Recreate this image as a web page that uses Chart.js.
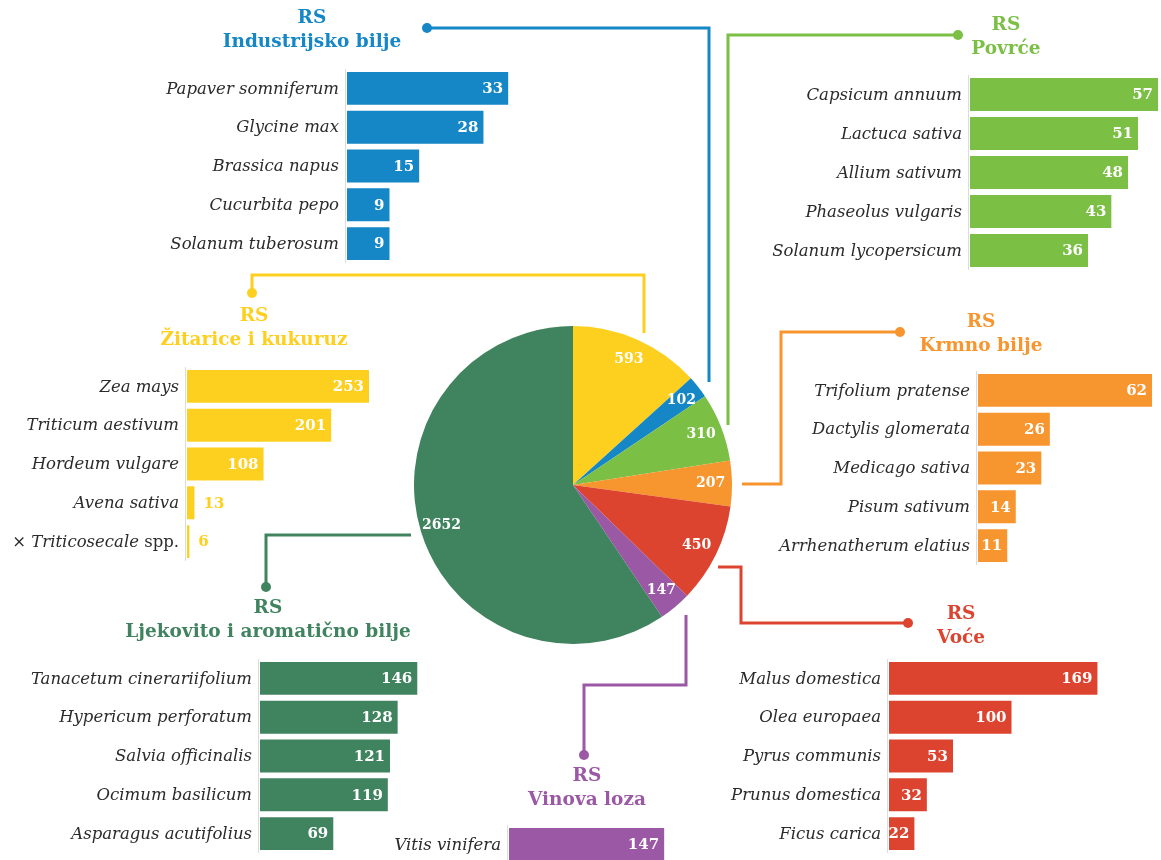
<!DOCTYPE html>
<html>
<head>
<meta charset="utf-8">
<script src="https://cdn.jsdelivr.net/npm/chart.js@4/dist/chart.umd.min.js"></script>
<style>
  html, body { margin: 0; padding: 0; background: #fff; }
  #page { position: relative; width: 1161px; height: 860px; overflow: hidden; }
  #page canvas { position: absolute; }
  .title {
    position: absolute; transform: translateX(-50%); text-align: center;
    font: bold 18.5px "DejaVu Serif", serif; line-height: 24px; white-space: nowrap;
  }
</style>
</head>
<body>
<div id="page">
  <canvas id="links" width="1161" height="860" style="left:0;top:0"></canvas>
</div>
<script>
// ukupan broj po grupama (pita u sredini)
const pieLabels = ["Žitarice i kukuruz", "Industrijsko bilje", "Povrće", "Krmno bilje", "Voće", "Vinova loza", "Ljekovito i aromatično bilje"];
const pieValues = [593, 102, 310, 207, 450, 147, 2652];

// vrste po grupama
const industrijskoLabels = ["Papaver somniferum", "Glycine max", "Brassica napus", "Cucurbita pepo", "Solanum tuberosum"];
const industrijskoValues = [33, 28, 15, 9, 9];

const povrceLabels = ["Capsicum annuum", "Lactuca sativa", "Allium sativum", "Phaseolus vulgaris", "Solanum lycopersicum"];
const povrceValues = [57, 51, 48, 43, 36];

const zitariceLabels = ["Zea mays", "Triticum aestivum", "Hordeum vulgare", "Avena sativa", "× Triticosecale spp."];
const zitariceValues = [253, 201, 108, 13, 6];

const krmnoLabels = ["Trifolium pratense", "Dactylis glomerata", "Medicago sativa", "Pisum sativum", "Arrhenatherum elatius"];
const krmnoValues = [62, 26, 23, 14, 11];

const ljekovitoLabels = ["Tanacetum cinerariifolium", "Hypericum perforatum", "Salvia officinalis", "Ocimum basilicum", "Asparagus acutifolius"];
const ljekovitoValues = [146, 128, 121, 119, 69];

const vinovaLabels = ["Vitis vinifera"];
const vinovaValues = [147];

const voceLabels = ["Malus domestica", "Olea europaea", "Pyrus communis", "Prunus domestica", "Ficus carica"];
const voceValues = [169, 100, 53, 32, 22];

// boje
const cYellow = "#fdd01f", cBlue = "#1586c6", cLime = "#7bbf45", cOrange = "#f7952e",
      cRed = "#dd4430", cPurple = "#9b58a4", cGreen = "#40835f";
const pieColors = [cYellow, cBlue, cLime, cOrange, cRed, cPurple, cGreen];

const page = document.getElementById("page");

// ---- pita ----
const pieValueText = {
  id: "pieValueText",
  afterDatasetsDraw(chart) {
    const ctx = chart.ctx;
    ctx.save();
    ctx.font = 'bold 14px "DejaVu Serif"';
    ctx.fillStyle = "#fff";
    ctx.textAlign = "center";
    ctx.textBaseline = "middle";
    chart.getDatasetMeta(0).data.forEach((arc, i) => {
      const p = arc.getProps(["x", "y", "startAngle", "endAngle", "outerRadius"]);
      const mid = (p.startAngle + p.endAngle) / 2;
      const r = p.outerRadius * 0.865;
      ctx.fillText(String(chart.data.datasets[0].data[i]), p.x + Math.cos(mid) * r, p.y + Math.sin(mid) * r);
    });
    ctx.restore();
  }
};

const pieCanvas = document.createElement("canvas");
pieCanvas.width = 318; pieCanvas.height = 318;
pieCanvas.style.left = "414px"; pieCanvas.style.top = "326px";
page.appendChild(pieCanvas);
new Chart(pieCanvas, {
  type: "pie",
  data: { labels: pieLabels, datasets: [{ data: pieValues, backgroundColor: pieColors, borderWidth: 0 }] },
  options: {
    responsive: false,
    animation: false,
    layout: { padding: 0 },
    plugins: { legend: { display: false }, tooltip: { enabled: false } }
  },
  plugins: [pieValueText]
});

// ---- trakasti grafikoni ----
// "× Ime spp." -> uspravni dijelovi, ime u kurzivu
function labelParts(s) {
  const m = s.match(/^(× )?(.+?)( spp\.)?$/);
  const parts = [];
  if (m[1]) parts.push({ t: m[1], it: false });
  parts.push({ t: m[2], it: true });
  if (m[3]) parts.push({ t: m[3], it: false });
  return parts;
}

const speciesText = {
  id: "speciesText",
  afterDatasetsDraw(chart) {
    const ctx = chart.ctx;
    const area = chart.chartArea;
    const yScale = chart.scales.y;
    const color = chart.data.datasets[0].backgroundColor;
    ctx.save();
    // tanka os lijevo od traka
    ctx.strokeStyle = "#dcdcdc";
    ctx.lineWidth = 1;
    ctx.beginPath();
    ctx.moveTo(area.left - 0.5, area.top);
    ctx.lineTo(area.left - 0.5, area.bottom);
    ctx.stroke();

    ctx.textBaseline = "middle";
    const bars = chart.getDatasetMeta(0).data;
    chart.data.labels.forEach((lab, i) => {
      const y = yScale.getPixelForValue(i) + 1;
      const parts = labelParts(lab);
      let total = 0;
      parts.forEach(p => {
        ctx.font = (p.it ? "italic " : "") + '16.5px "DejaVu Serif"';
        p.w = ctx.measureText(p.t).width;
        total += p.w;
      });
      let x = area.left - 7 - total;
      ctx.fillStyle = "#2b2b2b";
      ctx.textAlign = "left";
      parts.forEach(p => {
        ctx.font = (p.it ? "italic " : "") + '16.5px "DejaVu Serif"';
        ctx.fillText(p.t, x, y);
        x += p.w;
      });

      // vrijednost na kraju trake
      const bar = bars[i];
      const val = String(chart.data.datasets[0].data[i]);
      ctx.font = 'bold 15px "DejaVu Serif"';
      if (bar.x - area.left > 26) {
        ctx.fillStyle = "#fff";
        ctx.textAlign = "right";
        ctx.fillText(val, bar.x - 6, y);
      } else {
        ctx.fillStyle = color;
        ctx.textAlign = "left";
        ctx.fillText(val, bar.x + 8, y);
      }
    });
    ctx.restore();
  }
};

function barGroup(g) {
  const labelSpace = Math.min(g.x, 300);
  const cv = document.createElement("canvas");
  cv.width = labelSpace + g.w;
  cv.height = g.h;
  cv.style.left = (g.x - labelSpace) + "px";
  cv.style.top = g.y + "px";
  page.appendChild(cv);
  new Chart(cv, {
    type: "bar",
    data: {
      labels: g.labels,
      datasets: [{
        data: g.values,
        backgroundColor: g.color,
        borderColor: "rgba(255,255,255,0.45)",
        borderWidth: 1,
        borderSkipped: false,
        barPercentage: 0.9,
        categoryPercentage: 1
      }]
    },
    options: {
      indexAxis: "y",
      responsive: false,
      animation: false,
      layout: { padding: { left: labelSpace, right: 0, top: 0, bottom: 0 } },
      scales: {
        x: { display: false, min: 0, max: g.max },
        y: { display: false }
      },
      plugins: { legend: { display: false }, tooltip: { enabled: false } }
    },
    plugins: [speciesText]
  });

  const t = document.createElement("div");
  t.className = "title";
  t.style.left = g.tx + "px";
  t.style.top = g.ty + "px";
  t.style.color = g.color;
  t.innerHTML = "RS<br>" + g.title;
  page.appendChild(t);
}

barGroup({ title: "Industrijsko bilje", labels: industrijskoLabels, values: industrijskoValues, color: cBlue,
  x: 346, y: 69, w: 180, h: 194, max: 36.4, tx: 312, ty: 5 });
barGroup({ title: "Povrće", labels: povrceLabels, values: povrceValues, color: cLime,
  x: 969, y: 75, w: 192, h: 195, max: 57.6, tx: 1006, ty: 12 });
barGroup({ title: "Žitarice i kukuruz", labels: zitariceLabels, values: zitariceValues, color: cYellow,
  x: 186, y: 367, w: 200, h: 194, max: 275, tx: 254, ty: 303 });
barGroup({ title: "Krmno bilje", labels: krmnoLabels, values: krmnoValues, color: cOrange,
  x: 977, y: 371, w: 184, h: 194, max: 64.8, tx: 981, ty: 309 });
barGroup({ title: "Ljekovito i aromatično bilje", labels: ljekovitoLabels, values: ljekovitoValues, color: cGreen,
  x: 259, y: 659, w: 180, h: 194, max: 165, tx: 268, ty: 595 });
barGroup({ title: "Vinova loza", labels: vinovaLabels, values: vinovaValues, color: cPurple,
  x: 508, y: 825, w: 170, h: 39, max: 159, tx: 587, ty: 763 });
barGroup({ title: "Voće", labels: voceLabels, values: voceValues, color: cRed,
  x: 888, y: 659, w: 230, h: 194, max: 184.7, tx: 961, ty: 601 });

// ---- spojne linije od pite do grupa ----
const links = [
  { color: cBlue,   pts: [[427, 28], [709, 28], [709, 382]], dot: 0 },
  { color: cLime,   pts: [[958, 35], [728, 35], [728, 425]], dot: 0 },
  { color: cYellow, pts: [[252, 293], [252, 275], [644, 275], [644, 333]], dot: 0 },
  { color: cOrange, pts: [[742, 484], [781, 484], [781, 332], [900, 332]], dot: 3 },
  { color: cRed,    pts: [[718, 567], [741, 567], [741, 623], [908, 623]], dot: 3 },
  { color: cPurple, pts: [[686, 615], [686, 685], [584, 685], [584, 755]], dot: 3 },
  { color: cGreen,  pts: [[411, 535], [266, 535], [266, 587]], dot: 2 }
];
const lctx = document.getElementById("links").getContext("2d");
links.forEach(l => {
  lctx.strokeStyle = l.color;
  lctx.fillStyle = l.color;
  lctx.lineWidth = 3;
  lctx.lineJoin = "miter";
  lctx.beginPath();
  l.pts.forEach((p, i) => i ? lctx.lineTo(p[0], p[1]) : lctx.moveTo(p[0], p[1]));
  lctx.stroke();
  const d = l.pts[l.dot];
  lctx.beginPath();
  lctx.arc(d[0], d[1], 5, 0, Math.PI * 2);
  lctx.fill();
});
</script>
</body>
</html>
